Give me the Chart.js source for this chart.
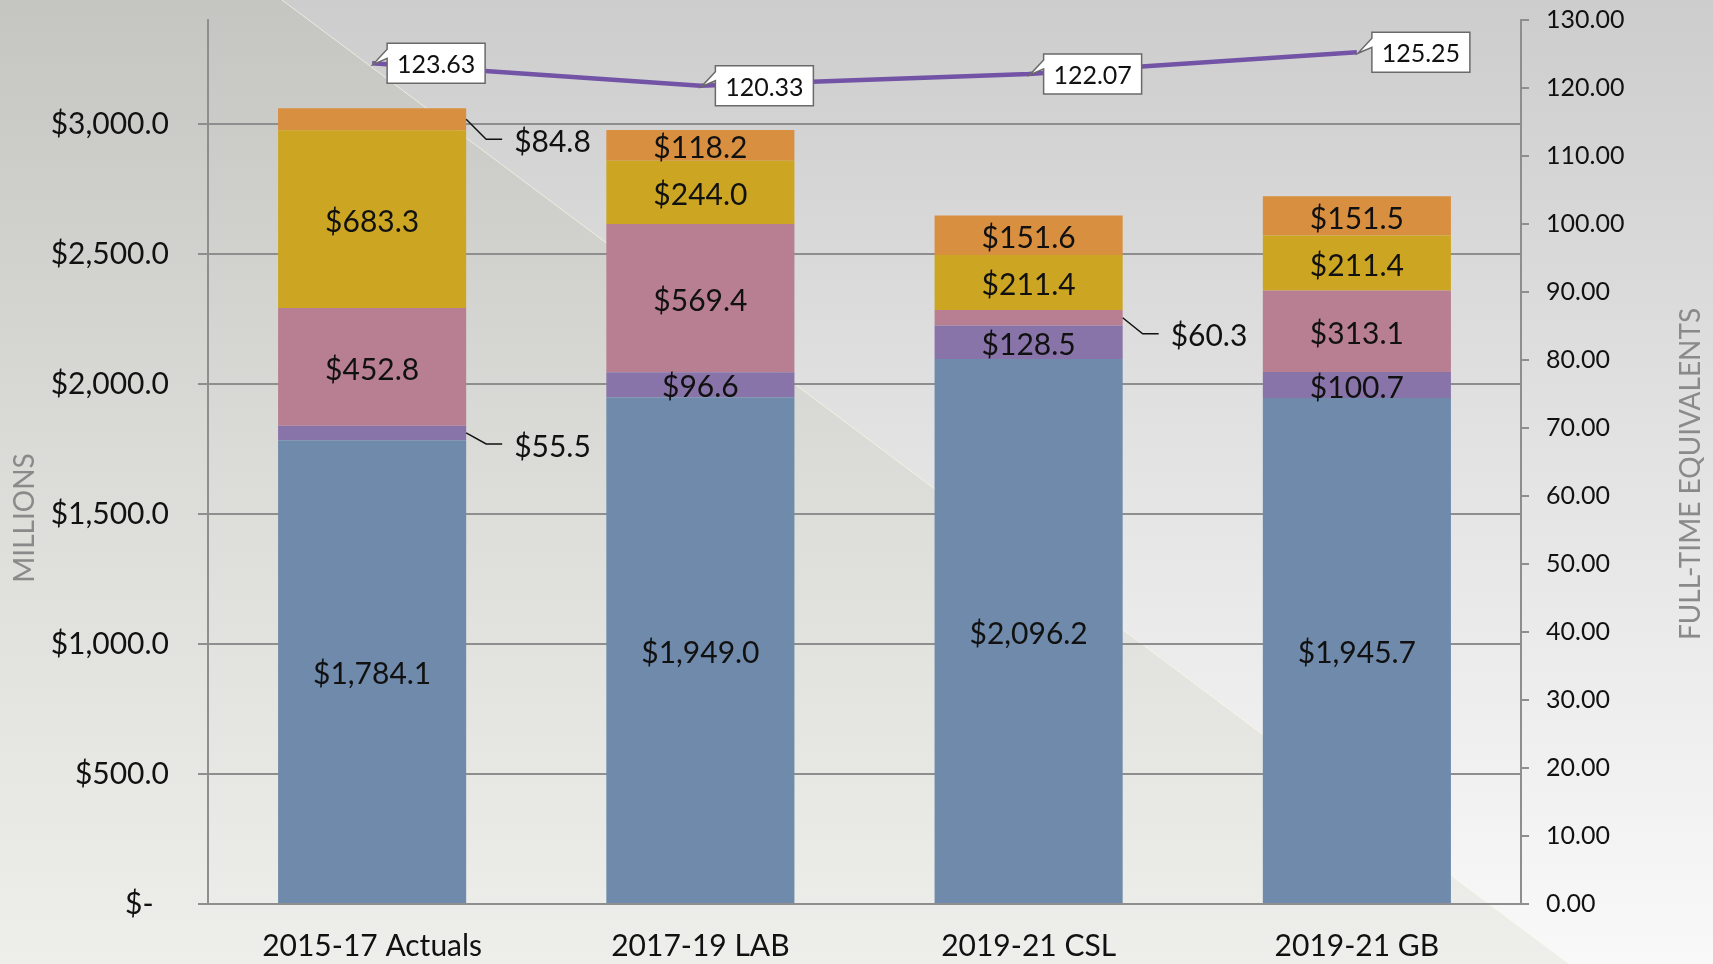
<!DOCTYPE html>
<html>
<head>
<meta charset="utf-8">
<script src="https://cdn.jsdelivr.net/npm/chart.js@4.4.1/dist/chart.umd.min.js"></script>
<style>
  html, body { margin: 0; padding: 0; background: #e0e0e0; }
  canvas { display: block; }
</style>
</head>
<body>
<canvas id="c" width="1713" height="964"></canvas>
<script>
// ---- data ----
const categories = ['2015-17 Actuals', '2017-19 LAB', '2019-21 CSL', '2019-21 GB'];
const generalFund   = [1784.1, 1949.0, 2096.2, 1945.7];
const lotteryFunds  = [55.5, 96.6, 128.5, 100.7];
const otherFunds    = [452.8, 569.4, 60.3, 313.1];
const federalFunds  = [683.3, 244.0, 211.4, 211.4];
const nonlimited    = [84.8, 118.2, 151.6, 151.5];
const fte           = [123.63, 120.33, 122.07, 125.25];
const leftTicks     = [0, 500, 1000, 1500, 2000, 2500, 3000];
const rightTicks    = [0, 10, 20, 30, 40, 50, 60, 70, 80, 90, 100, 110, 120, 130];

// ---- styling ----
const FONT = 'Lato, "Open Sans", "DejaVu Sans", sans-serif';
const colors = ['#6f8aab', '#8974aa', '#b77f91', '#cca623', '#d98f40'];
const gridColor = '#8e8e8e';
// labels drawn outside their segment with a leader line: dataset index, category index, vertical drop
const outsideLabels = [
  { ds: 4, i: 0, dy: 20 },
  { ds: 1, i: 0, dy: 11 },
  { ds: 2, i: 2, dy: 16 }
];

function money(v) {
  return '$' + v.toLocaleString('en-US', { minimumFractionDigits: 1, maximumFractionDigits: 1 });
}

const bgPlugin = {
  id: 'bg',
  beforeDraw(chart) {
    const ctx = chart.ctx, W = chart.width, H = chart.height;
    ctx.save();
    let g = ctx.createLinearGradient(0, 0, 0, H);
    g.addColorStop(0, '#cdcdcd');
    g.addColorStop(0.5, '#e4e4e4');
    g.addColorStop(1, '#f9f9f9');
    ctx.fillStyle = g;
    ctx.fillRect(0, 0, W, H);
    // diagonal darker triangle
    ctx.beginPath();
    ctx.moveTo(0, 0);
    ctx.lineTo(282, 0);
    ctx.lineTo(1569, H);
    ctx.lineTo(0, H);
    ctx.closePath();
    g = ctx.createLinearGradient(0, 0, 0, H);
    g.addColorStop(0, '#c5c5c1');
    g.addColorStop(0.5, '#dcdcd8');
    g.addColorStop(1, '#eeeeea');
    ctx.fillStyle = g;
    ctx.fill();
    ctx.beginPath();
    ctx.moveTo(282, 0);
    ctx.lineTo(1569, H);
    ctx.strokeStyle = 'rgba(250,250,235,0.7)';
    ctx.lineWidth = 1;
    ctx.stroke();
    ctx.restore();
  }
};

const labelPlugin = {
  id: 'labels',
  afterDatasetsDraw(chart) {
    const ctx = chart.ctx;
    ctx.save();
    // bar labels
    ctx.font = '30px ' + FONT;
    ctx.fillStyle = '#111';
    ctx.textBaseline = 'middle';
    for (let d = 0; d < 5; d++) {
      const meta = chart.getDatasetMeta(d);
      const vals = chart.data.datasets[d].data;
      meta.data.forEach((el, i) => {
        const cy = (el.y + el.base) / 2 + 3;
        const out = outsideLabels.find(o => o.ds === d && o.i === i);
        if (out) {
          const xr = el.x + el.width / 2;
          ctx.beginPath();
          ctx.moveTo(xr, cy - 3);
          ctx.lineTo(xr + 20, cy - 3 + out.dy);
          ctx.lineTo(xr + 36, cy - 3 + out.dy);
          ctx.strokeStyle = '#111';
          ctx.lineWidth = 1.5;
          ctx.stroke();
          ctx.textAlign = 'left';
          ctx.fillText(money(vals[i]), xr + 48, cy + out.dy);
        } else {
          ctx.textAlign = 'center';
          ctx.fillText(money(vals[i]), el.x, cy);
        }
      });
    }
    // line labels (callout boxes)
    const lm = chart.getDatasetMeta(5);
    const lv = chart.data.datasets[5].data;
    ctx.font = '25px ' + FONT;
    lm.data.forEach((pt, i) => {
      const left = pt.x + 15, top = pt.y - 20, w = 98, h = 40;
      ctx.beginPath();
      ctx.moveTo(left, top);
      ctx.lineTo(left + w, top);
      ctx.lineTo(left + w, top + h);
      ctx.lineTo(left, top + h);
      ctx.lineTo(left, top + 15);
      ctx.lineTo(pt.x + 1, pt.y + 1);
      ctx.lineTo(left, top + 6);
      ctx.closePath();
      ctx.fillStyle = '#ffffff';
      ctx.fill();
      ctx.strokeStyle = '#6a6a6a';
      ctx.lineWidth = 1.5;
      ctx.stroke();
      ctx.fillStyle = '#111';
      ctx.textAlign = 'center';
      ctx.fillText(lv[i].toFixed(2), left + w / 2, top + h / 2 + 2);
    });
    // axis titles
    ctx.font = '28px ' + FONT;
    ctx.fillStyle = '#8a8a8a';
    ctx.textAlign = 'center';
    ctx.save();
    ctx.translate(25, 518);
    ctx.rotate(-Math.PI / 2);
    ctx.fillText('MILLIONS', 0, 0);
    ctx.restore();
    ctx.save();
    ctx.translate(1691, 474);
    ctx.rotate(-Math.PI / 2);
    ctx.fillText('FULL-TIME EQUIVALENTS', 0, 0);
    ctx.restore();
    ctx.restore();
  }
};

const seriesNames = ['General Fund', 'Lottery Funds', 'Other Funds', 'Federal Funds', 'Nonlimited'];
const seriesData = [generalFund, lotteryFunds, otherFunds, federalFunds, nonlimited];

const datasets = seriesData.map((arr, k) => ({
  type: 'bar',
  label: seriesNames[k],
  data: arr,
  backgroundColor: colors[k],
  borderWidth: 0,
  barPercentage: 0.573,
  categoryPercentage: 1,
  yAxisID: 'y',
  order: 2
}));
datasets.push({
  type: 'line',
  label: 'FTE',
  data: fte,
  borderColor: '#7253a6',
  borderWidth: 4.5,
  pointRadius: 0,
  tension: 0,
  yAxisID: 'y1',
  order: 0
});

function fixV(width) {
  return s => { s.width = width; s.paddingTop = 0; s.paddingBottom = 0; };
}

new Chart(document.getElementById('c'), {
  data: { labels: categories, datasets },
  plugins: [bgPlugin, labelPlugin],
  options: {
    responsive: false,
    animation: false,
    devicePixelRatio: 1,
    layout: { padding: { top: 20, left: 0, right: 0, bottom: 0 } },
    plugins: { legend: { display: false }, tooltip: { enabled: false } },
    scales: {
      x: {
        stacked: true,
        grid: { display: false },
        border: { display: false },
        ticks: { font: { family: FONT, size: 30 }, color: '#111', padding: 16 },
        afterFit(s) { s.height = 60; s.paddingLeft = 0; s.paddingRight = 0; }
      },
      y: {
        stacked: true,
        position: 'left',
        min: 0, max: 3400,
        afterBuildTicks(s) { s.ticks = leftTicks.map(v => ({ value: v })); },
        grid: { color: gridColor, lineWidth: 2, tickLength: 10, drawTicks: true },
        border: { display: true, color: gridColor, width: 2 },
        ticks: {
          font: { family: FONT, size: 30 }, color: '#111', padding: 29,
          callback: v => v === 0 ? '$-  ' : money(v)
        },
        afterFit: fixV(208)
      },
      y1: {
        position: 'right',
        min: 0, max: 130,
        afterBuildTicks(s) { s.ticks = rightTicks.map(v => ({ value: v })); },
        grid: { drawOnChartArea: false, drawTicks: true, tickLength: 8, color: gridColor, lineWidth: 2 },
        border: { display: true, color: gridColor, width: 2 },
        ticks: { font: { family: FONT, size: 25 }, color: '#111', padding: 17, callback: v => v.toFixed(2) },
        afterFit: fixV(192)
      }
    }
  }
});
</script>
</body>
</html>
